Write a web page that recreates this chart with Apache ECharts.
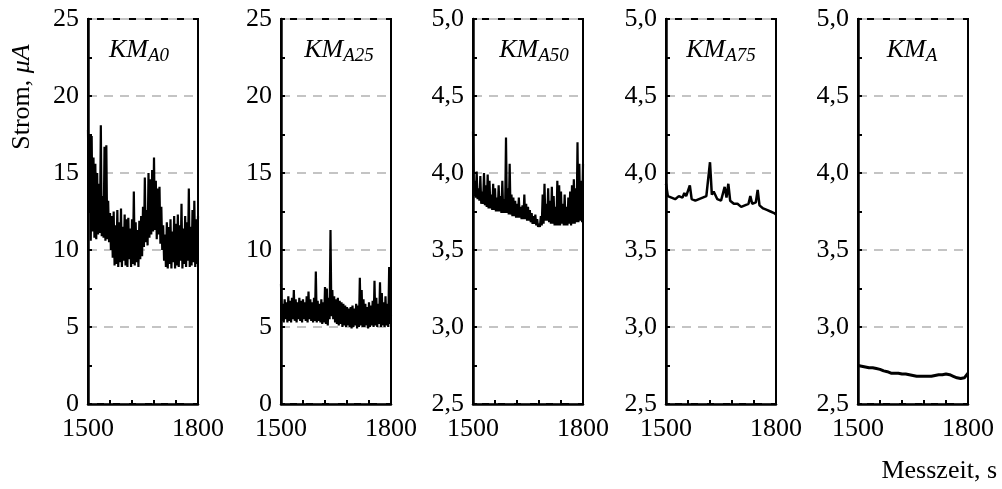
<!DOCTYPE html>
<html>
<head>
<meta charset="utf-8">
<script src="https://cdn.jsdelivr.net/npm/echarts@6/dist/echarts.min.js"></script>
<style>html,body{margin:0;padding:0;background:#fff}#c{width:1002px;height:489px}</style>
</head>
<body>
<div id="c"></div>
<script>
// ---- data ----
const panelTitles = [['KM','A0'],['KM','A25'],['KM','A50'],['KM','A75'],['KM','A']];
const xTickLabels = [1500, 1800];
const yTickLabels12 = [0, 5, 10, 15, 20, 25];
const yTickLabels345 = ['2,5','3,0','3,5','4,0','4,5','5,0'];
const tStart = 1500;
// KM_A0, sampled every 2.5 s
const kmA0 = [
17.8,12.5, 17.5,10.6, 17.4,11.2, 16.0,10.8, 15.6,10.7, 15.0,11.0, 14.3,11.1, 18.1,10.9,
13.5,10.8, 16.7,10.6, 16.8,10.7, 13.2,10.5, 12.4,10.0, 12.2,9.5, 12.5,9.0, 11.6,9.1,
12.6,8.9, 11.8,9.2, 12.7,8.9, 11.5,9.3, 12.3,9.0, 12.0,8.9, 12.1,9.4, 11.4,8.9,
12.0,9.1, 13.8,9.0, 11.8,9.2, 11.3,8.9, 11.9,9.4, 12.2,9.6, 12.8,10.2, 14.7,10.5,
12.6,10.3, 15.0,10.8, 14.6,11.0, 15.2,11.2, 16.0,11.3, 14.5,10.7, 14.0,11.0, 14.1,10.4,
12.8,10.0, 11.6,9.3, 11.0,8.9, 11.8,8.8, 11.5,9.1, 12.0,8.8, 11.2,9.2, 12.2,8.8,
11.7,9.0, 12.3,8.9, 11.6,9.3, 13.0,8.8, 11.4,9.1, 12.2,8.9, 11.8,9.3, 14.0,8.9,
11.5,9.0, 12.6,9.2, 13.2,8.9, 12.0,9.1, 12.2
];
// KM_A25, sampled every 2.5 s
const kmA25 = [
7.8,5.4, 6.5,5.3, 6.8,5.5, 6.6,5.3, 7.0,5.4, 6.7,5.3, 6.9,5.5, 7.4,5.4,
6.8,5.3, 6.6,5.5, 6.9,5.4, 6.7,5.3, 6.8,5.5, 6.6,5.4, 7.0,5.3, 7.3,5.5,
6.8,5.4, 6.6,5.3, 6.9,5.4, 8.6,5.3, 6.7,5.4, 6.5,5.3, 6.8,5.2, 6.6,5.3,
7.6,5.2, 7.5,5.1, 6.9,5.5, 11.3,5.7, 7.4,5.5, 7.0,5.3, 6.8,5.2, 6.9,5.1,
6.7,5.2, 6.6,5.0, 6.5,5.1, 6.4,5.0, 6.3,5.1, 6.2,5.0, 6.3,4.9, 6.4,5.0,
6.2,5.1, 6.5,4.9, 6.4,5.0, 8.2,5.1, 7.4,5.0, 6.8,5.0, 6.5,5.1, 6.3,4.9,
6.6,5.0, 6.4,5.1, 6.7,5.0, 8.0,5.1, 6.9,5.0, 6.5,5.2, 7.9,5.0, 7.2,5.1,
6.6,5.0, 7.0,5.1, 6.5,5.0, 8.9,5.2, 5.8
];
// KM_A50, sampled every 2.5 s
const kmA50 = [
4.27,3.85, 3.95,3.84, 4.01,3.83, 3.90,3.82, 3.98,3.80, 3.88,3.80, 4.00,3.79, 3.92,3.78,
3.99,3.77, 3.95,3.77, 3.86,3.76, 3.93,3.76, 3.90,3.75, 3.84,3.75, 3.92,3.75, 3.85,3.74,
3.95,3.74, 3.83,3.74, 4.23,3.74, 3.90,3.73, 4.06,3.73, 3.86,3.72, 3.84,3.72, 3.82,3.71,
3.80,3.71, 3.84,3.71, 3.78,3.70, 3.79,3.70, 3.86,3.70, 3.80,3.69, 3.78,3.69, 3.76,3.68,
3.74,3.67, 3.72,3.67, 3.73,3.66, 3.70,3.65, 3.67,3.65, 3.72,3.66, 3.86,3.67, 3.93,3.69,
3.80,3.69, 3.90,3.68, 3.82,3.67, 3.91,3.67, 3.85,3.66, 3.78,3.66, 3.95,3.66, 3.92,3.66,
3.88,3.67, 3.80,3.66, 3.86,3.66, 3.78,3.66, 3.84,3.67, 3.88,3.66, 3.92,3.67, 3.96,3.67,
3.90,3.68, 4.20,3.68, 4.06,3.69, 3.95,3.68, 4.06
];
// KM_A75, sampled every 5 s
const kmA75 = [
3.93,3.85,3.85,3.84,3.84,3.83,3.84,3.85,3.86,3.84,3.87,3.85,3.86,3.92,3.83,3.82,
3.82,3.82,3.83,3.83,3.84,3.85,3.85,3.86,4.07,3.86,3.88,3.87,3.83,3.82,3.82,3.83,
3.91,3.84,3.93,3.82,3.81,3.80,3.80,3.80,3.79,3.78,3.78,3.79,3.78,3.80,3.85,3.80,
3.80,3.81,3.89,3.79,3.78,3.77,3.77,3.76,3.76,3.75,3.75,3.74,3.73
];
// KM_A, sampled every 10 s
const kmA = [
2.75,2.745,2.74,2.735,2.735,2.73,2.725,2.715,2.71,2.70,2.70,2.70,2.695,2.695,2.69,2.685,
2.68,2.68,2.68,2.68,2.68,2.685,2.69,2.69,2.695,2.69,2.68,2.67,2.665,2.67,2.70
];
const seriesValues = [kmA0, kmA25, kmA50, kmA75, kmA];
const sampleSteps = [2.5, 2.5, 2.5, 5, 10];

// ---- chart ----
const FONT = 'Liberation Serif, Times New Roman, serif';
const lefts = [88, 281, 473, 666, 858];
const titleCenters = [134, 334, 529, 716, 907];
const W = 110, TOP = 19, H = 385;
const lineWidths = [2.2, 2.2, 2.2, 2.5, 3];
const yCfg = [
  {min: 0, max: 25, interval: 5},
  {min: 0, max: 25, interval: 5},
  {min: 2.5, max: 5, interval: 0.5},
  {min: 2.5, max: 5, interval: 0.5},
  {min: 2.5, max: 5, interval: 0.5}
];
const grids = [], xAxes = [], yAxes = [], series = [], titles = [];
for (let i = 0; i < 5; i++) {
  grids.push({left: lefts[i], top: TOP, width: W, height: H, show: true,
    borderColor: '#000', borderWidth: 2, backgroundColor: 'transparent', containLabel: false});
  xAxes.push({type: 'value', gridIndex: i, min: 1500, max: 1800, interval: 60,
    axisLine: {show: true, onZero: false, lineStyle: {color: '#000', width: 2.5}},
    axisTick: {show: true, inside: true, length: 4, lineStyle: {color: '#000', width: 2}},
    splitLine: {show: false},
    axisLabel: {show: true, showMinLabel: true, showMaxLabel: true, margin: 12,
      fontFamily: FONT, fontSize: 26, color: '#000',
      formatter: v => (xTickLabels.indexOf(v) >= 0 ? String(v) : '')}
  });
  const c = yCfg[i];
  yAxes.push({type: 'value', gridIndex: i, min: c.min, max: c.max, interval: c.interval,
    axisLine: {show: true, onZero: false, lineStyle: {color: '#000', width: 2.5}},
    axisTick: {show: true, inside: true, length: 4, lineStyle: {color: '#000', width: 2}},
    minorTick: {show: true, splitNumber: 2, length: 4, lineStyle: {color: '#000', width: 2}},
    splitLine: {show: true, lineStyle: {color: '#c4c4c4', width: 2, type: [9, 7]}},
    axisLabel: {show: true, showMinLabel: true, showMaxLabel: true, margin: 9,
      fontFamily: FONT, fontSize: 26, color: '#000',
      formatter: v => {
        const k = Math.round((v - c.min) / c.interval);
        return i < 2 ? String(yTickLabels12[k]) : yTickLabels345[k];
      }}
  });
  const step = sampleSteps[i];
  series.push({type: 'line', xAxisIndex: i, yAxisIndex: i, showSymbol: false,
    animation: false, silent: true,
    lineStyle: {color: '#000', width: lineWidths[i]},
    data: seriesValues[i].map((v, k) => [tStart + k * step, v])
  });
  titles.push({
    text: '{m|' + panelTitles[i][0] + '}{s|' + panelTitles[i][1] + '}',
    left: titleCenters[i], top: 30, textAlign: 'center',
    textStyle: {fontWeight: 'normal', rich: {
      m: {fontFamily: FONT, fontStyle: 'italic', fontWeight: 'normal', fontSize: 26, color: '#000', lineHeight: 30, verticalAlign: 'middle'},
      s: {fontFamily: FONT, fontStyle: 'italic', fontWeight: 'normal', fontSize: 19, color: '#000', lineHeight: 16, verticalAlign: 'bottom'}
    }}
  });
}
const chart = echarts.init(document.getElementById('c'), null, {renderer: 'canvas'});
chart.setOption({
  animation: false,
  backgroundColor: '#fff',
  title: titles,
  grid: grids, xAxis: xAxes, yAxis: yAxes, series: series,
  graphic: [
    {type: 'text', x: 22, y: 97, rotation: Math.PI / 2, silent: true,
      style: {text: '{n|Strom, }{i|μA}', align: 'center', verticalAlign: 'middle',
        rich: {n: {fontFamily: FONT, fontSize: 26, fill: '#000'},
               i: {fontFamily: FONT, fontSize: 26, fontStyle: 'italic', fill: '#000'}}}},
    {type: 'text', x: 997, y: 471, silent: true,
      style: {text: 'Messzeit, s', align: 'right', verticalAlign: 'middle',
        fontFamily: FONT, fontSize: 26, fill: '#000'}}
  ]
});
</script>
</body>
</html>
